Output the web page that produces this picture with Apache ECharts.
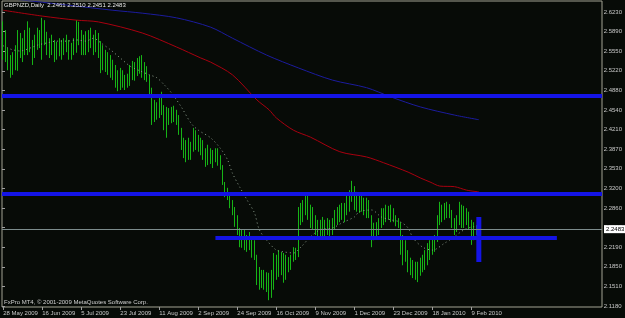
<!DOCTYPE html>
<html><head><meta charset="utf-8">
<script src="https://cdn.jsdelivr.net/npm/echarts/dist/echarts.min.js"></script>
<style>html,body{margin:0;padding:0;background:#070b07;}#c{width:625px;height:318px;}</style>
</head><body><div id="c"></div>
<script>
const symbol = 'GBPNZD';
const period = 'Daily';
const copyright = 'FxPro MT4, \u00a9 2001-2009 MetaQuotes Software Corp.';
const dateLabels = ['28 May 2009','16 Jun 2009','5 Jul 2009','23 Jul 2009','11 Aug 2009','2 Sep 2009','24 Sep 2009','16 Oct 2009','9 Nov 2009','1 Dec 2009','23 Dec 2009','18 Jan 2010','9 Feb 2010'];
const labelEvery = 16;
const totalSlots = 246;
const priceTicks = ['2.1180','2.1510','2.1850','2.2190','2.2520','2.2860','2.3200','2.3530','2.3870','2.4210','2.4540','2.4880','2.5220','2.5550','2.5890','2.6230'];
const priceMin = 2.1163, priceMax = 2.6419;

const opens = [
2.558,2.589,2.549,2.532,2.520,2.544,2.537,2.578,2.558,2.566,
2.584,2.592,2.566,2.549,2.575,2.578,2.572,2.601,2.578,2.561,
2.572,2.558,2.549,2.566,2.554,2.561,2.572,2.565,2.549,2.561,
2.566,2.596,2.575,2.561,2.572,2.558,2.578,2.568,2.558,2.584,
2.554,2.532,2.549,2.527,2.541,2.520,2.515,2.503,2.498,2.515,
2.499,2.506,2.498,2.523,2.515,2.530,2.523,2.541,2.520,2.527,
2.510,2.489,2.441,2.458,2.446,2.472,2.455,2.429,2.446,2.441,
2.451,2.441,2.446,2.417,2.395,2.386,2.389,2.377,2.395,2.417,
2.403,2.389,2.400,2.377,2.369,2.386,2.372,2.383,2.377,2.365,
2.360,2.331,2.317,2.307,2.295,2.283,2.262,2.249,2.231,2.240,
2.223,2.231,2.221,2.214,2.206,2.166,2.154,2.170,2.156,2.149,
2.142,2.163,2.194,2.180,2.201,2.188,2.171,2.194,2.183,2.197,
2.211,2.206,2.280,2.269,2.286,2.300,2.280,2.262,2.274,2.252,
2.245,2.257,2.249,2.252,2.262,2.245,2.257,2.274,2.266,2.283,
2.274,2.286,2.300,2.309,2.321,2.297,2.304,2.292,2.300,2.283,
2.292,2.274,2.240,2.252,2.245,2.262,2.280,2.269,2.283,2.274,
2.280,2.269,2.262,2.257,2.223,2.206,2.214,2.188,2.180,2.187,
2.171,2.180,2.194,2.188,2.206,2.218,2.223,2.228,2.231,2.266,
2.286,2.274,2.283,2.292,2.280,2.262,2.252,2.266,2.286,2.269,
2.280,2.266,2.257,2.235,2.252,2.2461];
const closes = [
2.592,2.549,2.532,2.520,2.544,2.537,2.578,2.558,2.566,2.584,
2.592,2.566,2.549,2.575,2.578,2.572,2.601,2.578,2.561,2.572,
2.558,2.549,2.566,2.554,2.561,2.572,2.565,2.549,2.561,2.566,
2.596,2.575,2.561,2.572,2.558,2.578,2.568,2.558,2.584,2.554,
2.532,2.549,2.527,2.541,2.520,2.515,2.503,2.498,2.515,2.499,
2.506,2.498,2.523,2.515,2.530,2.523,2.541,2.520,2.527,2.510,
2.489,2.441,2.458,2.446,2.472,2.455,2.429,2.446,2.441,2.451,
2.441,2.446,2.417,2.395,2.386,2.389,2.377,2.395,2.417,2.403,
2.389,2.400,2.377,2.369,2.386,2.372,2.383,2.377,2.365,2.360,
2.331,2.317,2.307,2.295,2.283,2.262,2.249,2.231,2.240,2.223,
2.231,2.221,2.214,2.206,2.166,2.154,2.170,2.156,2.149,2.142,
2.163,2.194,2.180,2.201,2.188,2.171,2.194,2.183,2.197,2.211,
2.206,2.280,2.269,2.286,2.300,2.280,2.262,2.274,2.252,2.245,
2.257,2.249,2.252,2.262,2.245,2.257,2.274,2.266,2.283,2.274,
2.286,2.300,2.309,2.321,2.297,2.304,2.292,2.300,2.283,2.292,
2.274,2.240,2.252,2.245,2.262,2.280,2.269,2.283,2.274,2.280,
2.269,2.262,2.257,2.223,2.206,2.214,2.188,2.180,2.187,2.171,
2.180,2.194,2.188,2.206,2.218,2.223,2.228,2.231,2.266,2.286,
2.274,2.283,2.292,2.280,2.262,2.252,2.266,2.286,2.269,2.280,
2.266,2.257,2.235,2.252,2.245,2.2483];
const lows = [
2.541,2.537,2.523,2.510,2.515,2.523,2.522,2.544,2.537,2.549,
2.549,2.554,2.532,2.544,2.558,2.561,2.541,2.566,2.549,2.544,
2.549,2.537,2.541,2.547,2.541,2.549,2.554,2.541,2.541,2.549,
2.553,2.566,2.549,2.549,2.549,2.554,2.561,2.549,2.554,2.544,
2.518,2.523,2.520,2.515,2.510,2.506,2.493,2.487,2.489,2.493,
2.489,2.493,2.496,2.506,2.505,2.513,2.517,2.510,2.506,2.503,
2.480,2.429,2.434,2.438,2.441,2.446,2.420,2.407,2.429,2.432,
2.434,2.429,2.412,2.386,2.372,2.365,2.369,2.369,2.383,2.386,
2.383,2.377,2.369,2.357,2.360,2.362,2.355,2.365,2.359,2.352,
2.326,2.305,2.300,2.286,2.274,2.254,2.240,2.219,2.218,2.214,
2.211,2.214,2.201,2.197,2.154,2.146,2.149,2.146,2.142,2.128,
2.132,2.146,2.163,2.168,2.171,2.158,2.163,2.176,2.180,2.194,
2.197,2.202,2.257,2.262,2.274,2.266,2.252,2.249,2.240,2.235,
2.238,2.235,2.238,2.240,2.235,2.240,2.249,2.257,2.262,2.266,
2.262,2.274,2.280,2.297,2.283,2.280,2.278,2.280,2.274,2.269,
2.269,2.219,2.231,2.235,2.240,2.252,2.257,2.262,2.266,2.262,
2.262,2.255,2.252,2.206,2.188,2.194,2.176,2.171,2.166,2.163,
2.159,2.170,2.176,2.180,2.188,2.197,2.206,2.211,2.228,2.257,
2.262,2.266,2.269,2.269,2.252,2.240,2.245,2.257,2.252,2.252,
2.257,2.249,2.223,2.231,2.240,2.2451];
const highs = [
2.607,2.592,2.561,2.549,2.554,2.566,2.592,2.587,2.578,2.592,
2.607,2.596,2.575,2.584,2.596,2.592,2.613,2.609,2.589,2.578,
2.584,2.575,2.572,2.578,2.575,2.578,2.584,2.575,2.570,2.578,
2.609,2.606,2.592,2.584,2.590,2.592,2.596,2.584,2.592,2.587,
2.573,2.566,2.558,2.554,2.549,2.541,2.532,2.523,2.527,2.523,
2.515,2.517,2.532,2.539,2.537,2.544,2.547,2.549,2.537,2.530,
2.515,2.493,2.472,2.468,2.480,2.486,2.463,2.460,2.458,2.460,
2.462,2.455,2.446,2.424,2.407,2.403,2.407,2.400,2.424,2.420,
2.412,2.407,2.403,2.389,2.395,2.389,2.386,2.389,2.389,2.377,
2.360,2.331,2.321,2.312,2.300,2.288,2.274,2.252,2.249,2.249,
2.240,2.245,2.237,2.231,2.206,2.185,2.180,2.180,2.176,2.175,
2.180,2.209,2.206,2.214,2.211,2.209,2.206,2.202,2.206,2.219,
2.218,2.288,2.295,2.300,2.309,2.309,2.292,2.288,2.274,2.266,
2.266,2.271,2.266,2.269,2.266,2.269,2.283,2.288,2.292,2.295,
2.295,2.309,2.317,2.333,2.324,2.314,2.309,2.307,2.304,2.304,
2.300,2.274,2.261,2.262,2.269,2.286,2.286,2.292,2.290,2.292,
2.286,2.274,2.269,2.262,2.240,2.231,2.214,2.201,2.197,2.194,
2.194,2.201,2.206,2.214,2.226,2.231,2.235,2.240,2.274,2.297,
2.292,2.295,2.297,2.293,2.283,2.269,2.274,2.297,2.292,2.290,
2.286,2.280,2.266,2.262,2.257,2.2510];

// moving averages (bar index, price)
const maSlowIdx = [0,7,45,57,71,85,94,108,121,135,149,159,171,185,195];
const maSlowVal = [2.647,2.644,2.626,2.621,2.613,2.597,2.578,2.549,2.527,2.506,2.493,2.477,2.460,2.446,2.438];
const maMidIdx = [0,16,30,39,57,71,81,85,94,104,109,112,119,126,138,149,156,166,171,175,179,185,190,195];
const maMidVal = [2.626,2.616,2.609,2.606,2.587,2.563,2.544,2.537,2.515,2.472,2.455,2.441,2.420,2.408,2.383,2.374,2.364,2.348,2.338,2.331,2.324,2.323,2.317,2.314];
const maFastIdx = [0,2,4,7,11,14,18,22,26,30,34,37,40,44,48,52,56,60,63,66,69,73,77,80,85,89,92,94,97,100,103,105,108,112,115,119,122,126,130,135,139,144,146,151,155,159,163,166,168,172,176,181,185,189,193,195];
const maFastVal = [2.565,2.561,2.558,2.556,2.561,2.566,2.570,2.573,2.573,2.575,2.573,2.578,2.570,2.558,2.544,2.530,2.522,2.515,2.510,2.498,2.484,2.460,2.432,2.420,2.407,2.389,2.369,2.346,2.322,2.300,2.278,2.249,2.231,2.214,2.211,2.209,2.219,2.237,2.249,2.252,2.261,2.271,2.280,2.283,2.271,2.266,2.262,2.252,2.235,2.219,2.214,2.226,2.237,2.249,2.254,2.252];

// drawn objects
const levelHigh = 2.4753;
const levelMid = 2.3087;
const levelLow = 2.2348, levelLowFrom = 87, levelLowTo = 227;
const markerIdx = 195, markerTop = 2.2709, markerBottom = 2.1936;

const last = opens.length - 1;
const lastClose = closes[last];
const categories = Array.from({length: totalSlots}, (_, i) => String(i));
const showTick = (i) => i % labelEvery === 0 && (i / labelEvery) < dateLabels.length;
const FONT = 'Liberation Sans';
const BLUE = '#1414e6';

const chart = echarts.init(document.getElementById('c'));
chart.setOption({
  backgroundColor: '#070b07',
  animation: false,
  textStyle: {fontFamily: FONT},
  grid: [
    {left: 2, right: 23, top: 1, bottom: 11, show: true, borderColor: '#a4a494', borderWidth: 1, backgroundColor: 'transparent'},
    {left: 2, right: 23, top: 12, bottom: 12, show: false}
  ],
  xAxis: [
    {type: 'category', gridIndex: 0, data: categories, boundaryGap: true,
     axisLine: {show: false},
     axisTick: {show: true, alignWithLabel: true, interval: showTick, length: 3, lineStyle: {color: '#a0a0a0'}},
     axisLabel: {show: true, interval: showTick, align: 'left', margin: 3, fontSize: 6, color: '#c8c8c8', fontFamily: FONT,
       formatter: (v, i) => showTick(i) ? dateLabels[i / labelEvery] : ''},
     splitLine: {show: false}},
    {type: 'value', gridIndex: 1, show: false}
  ],
  yAxis: [
    {type: 'value', gridIndex: 0, min: priceMin, max: priceMax, show: false, splitLine: {show: false}},
    {type: 'category', gridIndex: 1, data: priceTicks, boundaryGap: false, position: 'right',
     axisLine: {show: false},
     axisTick: {show: true, length: 3, lineStyle: {color: '#a0a0a0'}},
     axisLabel: {show: true, margin: 4, fontSize: 6, color: '#c8c8c8', fontFamily: FONT},
     splitLine: {show: false}}
  ],
  graphic: [
    {type: 'text', left: 4, top: 2, z: 100, style: {text: symbol + ',' + period + '  ' + [opens[last], highs[last], lows[last], closes[last]].map(v => v.toFixed(4)).join(' '), fill: '#e6e6e6', font: '6px "Liberation Sans"'}},
    {type: 'text', left: 4, top: 299, z: 100, style: {text: copyright, fill: '#d0d0d0', font: '6px "Liberation Sans"'}}
  ],
  series: [
    {type: 'candlestick', xAxisIndex: 0, yAxisIndex: 0, barWidth: 0.6,
     data: opens.map((o, i) => [o, closes[i], lows[i], highs[i]]),
     itemStyle: {color: '#0b5a2b', color0: '#0b5a3a', borderColor: '#16b416', borderColor0: '#16b416', borderWidth: 1},
     markLine: {silent: true, symbol: 'none', animation: false, label: {show: false},
       data: [
         {yAxis: levelHigh, lineStyle: {color: BLUE, width: 4, type: 'solid'}},
         {yAxis: levelMid, lineStyle: {color: BLUE, width: 4, type: 'solid'}},
         {yAxis: lastClose, lineStyle: {color: '#7c8c8c', width: 1, type: 'solid'},
          label: {show: true, position: 'end', distance: 2, formatter: lastClose.toFixed(4), backgroundColor: '#ffffff', color: '#000000', fontSize: 6, padding: [1, 2], fontFamily: FONT}}
       ]}},
    {type: 'line', name: 'MA slow', symbol: 'none', smooth: 0.3, data: maSlowIdx.map((x, i) => [x, maSlowVal[i]]), lineStyle: {color: '#1c1c9e', width: 1}},
    {type: 'line', name: 'MA mid', symbol: 'none', smooth: 0.3, data: maMidIdx.map((x, i) => [x, maMidVal[i]]), lineStyle: {color: '#a8000f', width: 1}},
    {type: 'line', name: 'MA fast', symbol: 'none', smooth: 0.3, data: maFastIdx.map((x, i) => [x, maFastVal[i]]), lineStyle: {color: '#8fa08f', width: 1, type: [1, 3]}},
    {type: 'line', name: 'support', symbol: 'none', data: [[levelLowFrom, levelLow], [levelLowTo, levelLow]], lineStyle: {color: BLUE, width: 4}},
    {type: 'line', name: 'marker', symbol: 'none', data: [[markerIdx, markerTop], [markerIdx, markerBottom]], lineStyle: {color: BLUE, width: 5}}
  ]
});
</script></body></html>
